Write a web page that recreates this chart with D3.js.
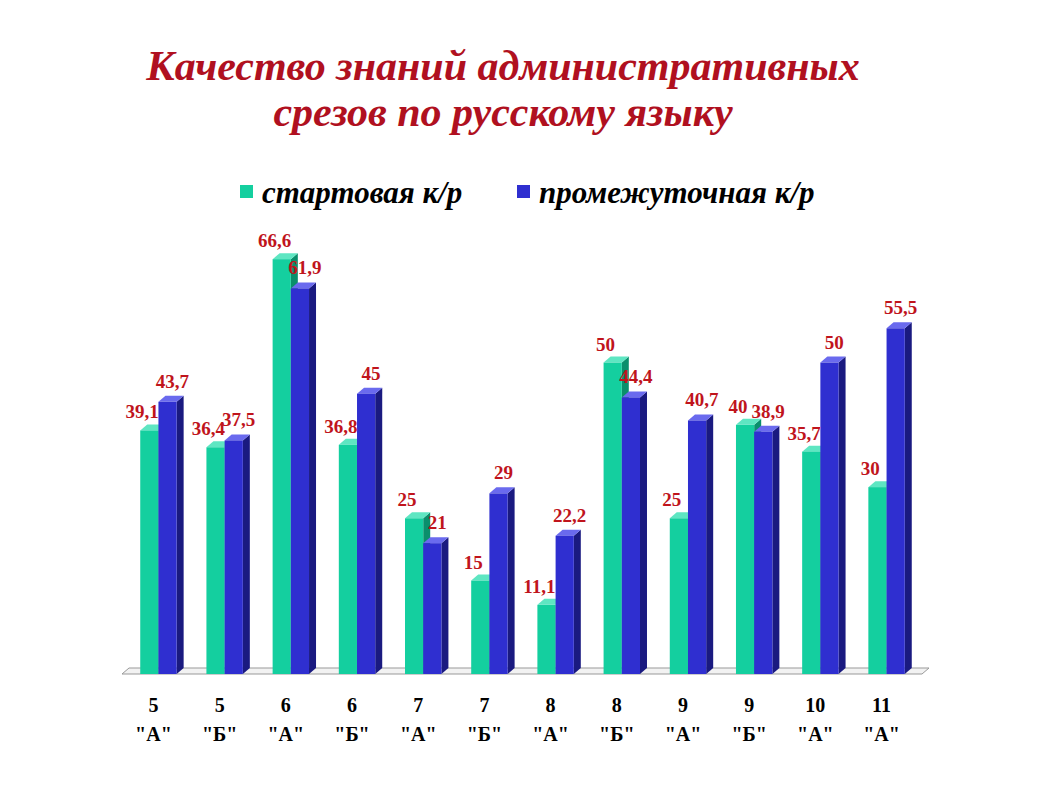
<!DOCTYPE html>
<html><head><meta charset="utf-8">
<script src="https://cdn.jsdelivr.net/npm/d3@7"></script>
<style>body{margin:0;background:#fff}</style>
</head><body><div id="chart"></div>
<script>
var classes = ["5|\"А\"", "5|\"Б\"", "6|\"А\"", "6|\"Б\"", "7|\"А\"", "7|\"Б\"", "8|\"А\"", "8|\"Б\"", "9|\"А\"", "9|\"Б\"", "10|\"А\"", "11|\"А\""];
var start = [39.1, 36.4, 66.6, 36.8, 25, 15, 11.1, 50, 25, 40, 35.7, 30];
var mid = [43.7, 37.5, 61.9, 45, 21, 29, 22.2, 44.4, 40.7, 38.9, 50, 55.5];
var fmt = (v) => String(v).replace(".", ",");

var svg = d3.select("#chart").append("svg").attr("width", 1058).attr("height", 793)
    .style("font-family", "'Liberation Serif', serif");

var x = d3.scaleBand().domain(classes).range([127, 918]).paddingInner(0.45).paddingOuter(0.2);
var y = d3.scaleLinear().domain([0, 70]).range([674, 238]);
var dx = 7, dy = 6, bw = x.bandwidth() / 2;

// title
svg.append("text").attr("x", 503).attr("y", 80).attr("text-anchor", "middle")
  .attr("font-size", 42).attr("font-weight", "bold").attr("font-style", "italic")
  .attr("fill", "#b01020").text("Качество знаний административных");
svg.append("text").attr("x", 503).attr("y", 126).attr("text-anchor", "middle")
  .attr("font-size", 42).attr("font-weight", "bold").attr("font-style", "italic")
  .attr("fill", "#b01020").text("срезов по русскому языку");

// legend
var legend = [["стартовая к/р", "#14cf9f", 240], ["промежуточная к/р", "#2f2fd0", 517]];
legend.forEach(function (l) {
  svg.append("rect").attr("x", l[2]).attr("y", 185).attr("width", 13).attr("height", 13).attr("fill", l[1]);
  svg.append("text").attr("x", l[2] + 22).attr("y", 203).attr("font-size", 31)
    .attr("font-weight", "bold").attr("font-style", "italic").text(l[0]);
});

// floor
var x0 = 122, x1 = 922, fy = y(0);
svg.append("path").attr("d", `M${x0},${fy} L${x1},${fy} L${x1 + dx},${fy - dy} L${x0 + dx},${fy - dy} Z`)
  .attr("fill", "#f2f2f2").attr("stroke", "#999");

function bar(xl, v, front, side, top) {
  var yt = y(v);
  svg.append("path").attr("d", `M${xl + bw},${fy} L${xl + bw + dx},${fy - dy} L${xl + bw + dx},${yt - dy} L${xl + bw},${yt} Z`).attr("fill", side);
  svg.append("path").attr("d", `M${xl},${yt} L${xl + dx},${yt - dy} L${xl + bw + dx},${yt - dy} L${xl + bw},${yt} Z`).attr("fill", top);
  svg.append("rect").attr("x", xl).attr("y", yt).attr("width", bw).attr("height", fy - yt).attr("fill", front);
}

classes.forEach(function (c, i) {
  var xl = x(c);
  bar(xl, start[i], "#14cf9f", "#0a8f6c", "#5ee6c2");
  bar(xl + bw, mid[i], "#2f2fd0", "#1a1a80", "#6a6aee");
  svg.append("text").attr("x", xl + 2).attr("y", y(start[i]) - 12).attr("text-anchor", "middle")
    .attr("font-size", 19).attr("font-weight", "bold").attr("fill", "#c0141c").text(fmt(start[i]));
  svg.append("text").attr("x", xl + bw + 14).attr("y", y(mid[i]) - 14).attr("text-anchor", "middle")
    .attr("font-size", 19).attr("font-weight", "bold").attr("fill", "#c0141c").text(fmt(mid[i]));
  var parts = c.split("|");
  svg.append("text").attr("x", xl + bw - 5).attr("y", 712).attr("text-anchor", "middle")
    .attr("font-size", 20).attr("font-weight", "bold").text(parts[0]);
  svg.append("text").attr("x", xl + bw - 5).attr("y", 741).attr("text-anchor", "middle")
    .attr("font-size", 20).attr("font-weight", "bold").text(parts[1]);
});
</script></body></html>
